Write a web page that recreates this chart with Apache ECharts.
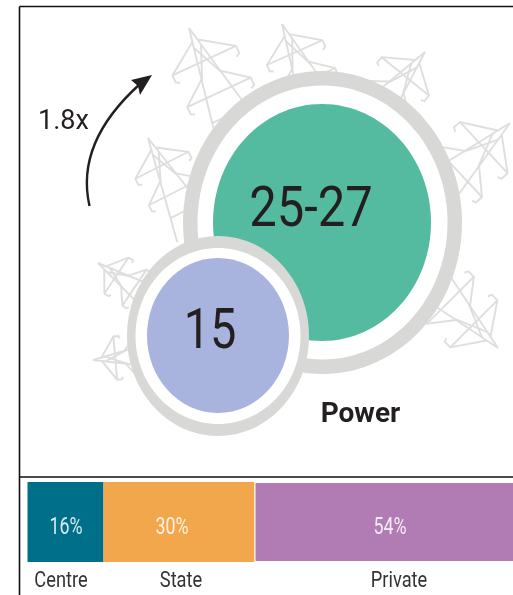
<!DOCTYPE html>
<html>
<head>
<meta charset="utf-8">
<style>html,body{margin:0;padding:0;background:#fff}#c{width:513px;height:595px}</style>
<script src="https://cdn.jsdelivr.net/npm/echarts@6/dist/echarts.min.js"></script>
</head>
<body>
<div id="c"></div>
<script>
// Data
const segmentNames = ['Centre', 'State', 'Private'];
const segmentLabels = ['16%', '30%', '54%'];
const segmentDrawnLengths = [15.2, 30.2, 54.6]; // lengths as drawn in the picture, out of 100
const circleLabels = ['25-27', '15'];
const multipleLabel = '1.8x';
const sectorName = 'Power';

// Layout, kept apart from the data
const ink = '#231f20', ringGrey = '#d8d9d7', pylonGrey = '#dedede';
const segmentColors = ['#006f8a', '#f2a74c', '#b17cb3'];
const circleLayout = [
  {cx: 322.5, cy: 222.5, outer: [139.5, 151.5], inner: [125, 137], fillC: [322, 222.5], fill: [109, 118.5], color: '#54baa0', text: [311, 212]},
  {cx: 218, cy: 336, outer: [91, 100], inner: [82.5, 88], fillC: [218, 335.5], fill: [71, 77.5], color: '#a8b3de', text: [210, 334]}
];
const segmentNameX = [61, 181, 399];
const segmentLabelX = [66, 172, 390];
// apex x, apex y, clockwise tilt in degrees, scale
const pylons = [
  [189, 28, -25, 1], [282, 24, -24, 0.87], [425, 52, 39, 0.87], [510, 123, 47, 1],
  [498, 348, 135, 0.95], [148, 138, -27, 0.85], [98, 263, -56, 0.62], [93, 360, -95, 0.62]
];

// One pylon drawn as polylines: apex at 0,0, running down +y
const pylonLines = (function () {
  const leg = y => 0.2 * y, L = [];
  L.push([[0, 0], [-leg(125), 125]], [[0, 0], [leg(125), 125]]);
  [[36, 14], [71, 52]].forEach(([ay, up]) => {
    L.push([[-35, ay], [35, ay]]);
    [-1, 1].forEach(s => {
      L.push([[s * leg(up), up], [s * 35, ay], [s * 35, ay + 8], [s * 31, ay + 10]]);
    });
  });
  L.push([[-leg(20), 20], [leg(54), 54]], [[leg(20), 20], [-leg(54), 54]]);
  L.push([[-leg(96), 96], [leg(96), 96]]);
  return L;
})();

const graphics = [];
pylons.forEach(([x, y, deg, k]) => {
  graphics.push({
    type: 'group', x, y, rotation: -deg * Math.PI / 180, z: 1,
    children: pylonLines.map(pts => ({
      type: 'polyline', z: 1, silent: true,
      shape: {points: pts.map(p => [p[0] * k, p[1] * k])},
      style: {stroke: pylonGrey, lineWidth: 1.9, fill: null}
    }))
  });
});
// Frame
[[19.5, 6.5, 513, 6.5], [19.5, 6.5, 19.5, 595], [19.5, 477, 513, 477]].forEach(s => {
  graphics.push({type: 'line', z: 5, silent: true, shape: {x1: s[0], y1: s[1], x2: s[2], y2: s[3]}, style: {stroke: '#111', lineWidth: 1.6}});
});
// Arrow
graphics.push({type: 'bezierCurve', z: 5, silent: true,
  shape: {x1: 89.5, y1: 206, cpx1: 79, cpy1: 160, cpx2: 100, cpy2: 120, x2: 140, y2: 84},
  style: {stroke: ink, lineWidth: 2.4, fill: null}});
graphics.push({type: 'polygon', z: 5, silent: true,
  shape: {points: [[152, 75], [131, 80], [138, 86], [140, 95]]}, style: {fill: ink}});
graphics.push({type: 'text', z: 5, silent: true, x: 63.5, y: 122,
  style: {text: multipleLabel, fill: ink, font: '27px Roboto', align: 'center', verticalAlign: 'middle'}});
graphics.push({type: 'text', z: 5, silent: true, x: 360.5, y: 414.5,
  style: {text: sectorName, fill: ink, font: 'bold 28px Roboto', align: 'center', verticalAlign: 'middle'}});
segmentNames.forEach((name, i) => {
  graphics.push({type: 'text', z: 5, silent: true, x: segmentNameX[i], y: 581, scaleX: 0.87, scaleY: 1.08,
    style: {text: name, fill: '#333', font: '21px Roboto', align: 'center', verticalAlign: 'middle'}});
  graphics.push({type: 'text', z: 5, silent: true, x: segmentLabelX[i], y: 528, scaleX: 0.85, scaleY: 1.1,
    style: {text: segmentLabels[i], fill: 'rgba(255,255,255,0.85)', font: '21px Roboto', align: 'center', verticalAlign: 'middle'}});
});

const ellipse = (api, c, r, fill, z2) => {
  const p = api.coord(c);
  return {type: 'ellipse', z2, shape: {cx: p[0], cy: p[1], rx: r[0], ry: r[1]}, style: {fill}};
};

const option = {
  animation: false,
  graphic: graphics,
  grid: [
    {left: 0, top: 0, width: 513, height: 595, outerBoundsMode: 'none'},
    {left: 27.5, top: 482, width: 500, height: 80, outerBoundsMode: 'none'}
  ],
  xAxis: [
    {gridIndex: 0, type: 'value', min: 0, max: 513, show: false},
    {gridIndex: 1, type: 'value', min: 0, max: 100, show: false}
  ],
  yAxis: [
    {gridIndex: 0, type: 'value', min: 0, max: 595, inverse: true, show: false},
    {gridIndex: 1, type: 'category', data: [sectorName], show: false}
  ],
  series: [
    {
      type: 'custom', xAxisIndex: 0, yAxisIndex: 0, z: 3, clip: false,
      data: circleLabels.map((t, i) => [circleLayout[i].cx, circleLayout[i].cy, t]),
      renderItem(params, api) {
        const i = params.dataIndex, c = circleLayout[i], base = i * 10;
        const t = api.coord(c.text);
        return {type: 'group', children: [
          ellipse(api, [c.cx, c.cy], c.outer, ringGrey, base + 1),
          ellipse(api, [c.cx, c.cy], c.inner, '#fff', base + 2),
          ellipse(api, c.fillC, c.fill, c.color, base + 3),
          {type: 'text', z2: base + 4, x: t[0], y: t[1], scaleX: i ? 0.92 : 0.96, scaleY: 1.07,
            style: {text: circleLabels[i], fill: ink, font: '400 51px Roboto', align: 'center', verticalAlign: 'middle'}}
        ]};
      }
    },
    ...segmentNames.map((name, i) => ({
      type: 'bar', name, xAxisIndex: 1, yAxisIndex: 1, stack: 'share', barWidth: '100%', z: 3,
      data: [segmentDrawnLengths[i]],
      itemStyle: i === 2 ? {color: segmentColors[i], borderColor: '#fff', borderWidth: 1} : {color: segmentColors[i]}
    }))
  ]
};
const chart = echarts.init(document.getElementById('c'), null, {renderer: 'canvas'});
chart.setOption(option);
</script>
</body>
</html>
